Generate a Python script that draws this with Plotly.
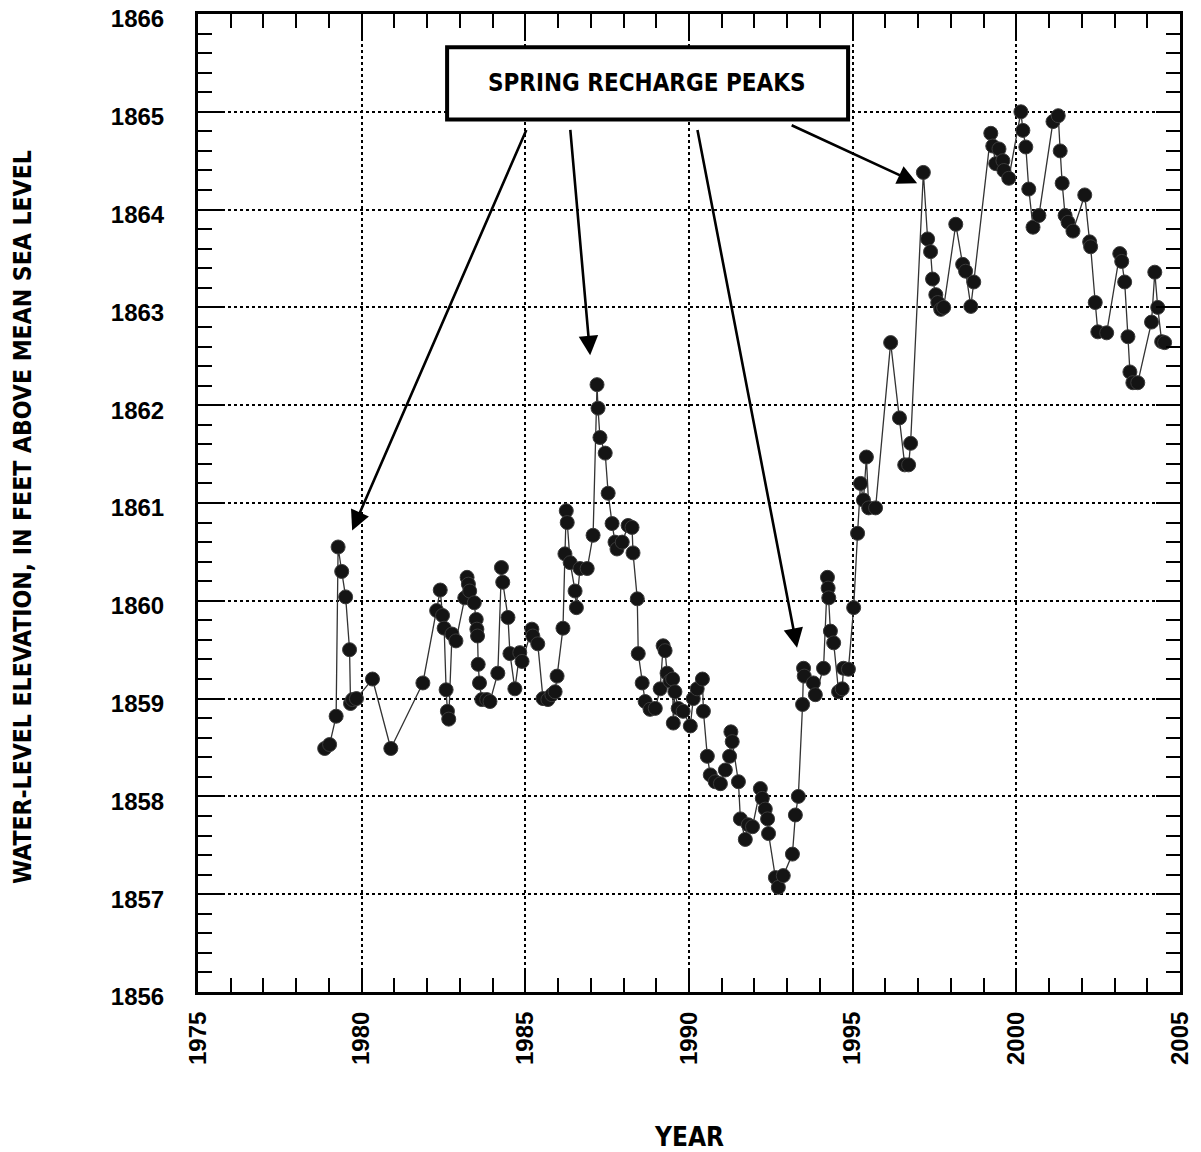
import plotly.graph_objects as go

years = [
    1978.87, 1979.02, 1979.22, 1979.28, 1979.39, 1979.51, 1979.63, 1979.66, 1979.72, 1979.84,
    1980.33, 1980.89, 1981.87, 1982.29, 1982.40, 1982.47, 1982.52, 1982.58, 1982.62, 1982.66,
    1982.76, 1982.88, 1983.15, 1983.22, 1983.26, 1983.30, 1983.44, 1983.50, 1983.52, 1983.54,
    1983.56, 1983.60, 1983.67, 1983.82, 1983.92, 1984.16, 1984.27, 1984.31, 1984.47, 1984.53,
    1984.68, 1984.83, 1984.90, 1985.20, 1985.23, 1985.38, 1985.54, 1985.69, 1985.81, 1985.91,
    1985.97, 1986.15, 1986.21, 1986.25, 1986.28, 1986.37, 1986.52, 1986.56, 1986.67, 1986.89,
    1987.07, 1987.19, 1987.22, 1987.28, 1987.44, 1987.53, 1987.65, 1987.74, 1987.80, 1987.96,
    1988.14, 1988.26, 1988.29, 1988.42, 1988.45, 1988.57, 1988.66, 1988.81, 1988.97, 1989.12,
    1989.21, 1989.27, 1989.33, 1989.42, 1989.50, 1989.52, 1989.57, 1989.67, 1989.82, 1990.04,
    1990.13, 1990.25, 1990.41, 1990.44, 1990.56, 1990.65, 1990.80, 1990.96, 1991.11, 1991.24,
    1991.28, 1991.32, 1991.51, 1991.57, 1991.72, 1991.81, 1991.94, 1992.18, 1992.24, 1992.33,
    1992.40, 1992.43, 1992.64, 1992.73, 1992.88, 1993.16, 1993.25, 1993.34, 1993.47, 1993.50,
    1993.52, 1993.80, 1993.86, 1994.11, 1994.23, 1994.25, 1994.27, 1994.32, 1994.42, 1994.57,
    1994.68, 1994.72, 1994.87, 1995.03, 1995.15, 1995.24, 1995.33, 1995.42, 1995.49, 1995.70,
    1996.16, 1996.43, 1996.59, 1996.71, 1996.77, 1997.16, 1997.29, 1997.38, 1997.44, 1997.54,
    1997.60, 1997.69, 1997.78, 1998.15, 1998.36, 1998.45, 1998.61, 1998.70, 1999.22, 1999.28,
    1999.37, 1999.47, 1999.59, 1999.62, 1999.77, 2000.14, 2000.20, 2000.29, 2000.38, 2000.51,
    2000.69, 2001.12, 2001.28, 2001.34, 2001.40, 2001.49, 2001.58, 2001.73, 2002.09, 2002.24,
    2002.27, 2002.41, 2002.49, 2002.76, 2003.16, 2003.22, 2003.31, 2003.41, 2003.47, 2003.56,
    2003.71, 2004.13, 2004.23, 2004.32, 2004.44, 2004.53,
]

water_level = [
    1858.49, 1858.53, 1858.82, 1860.55, 1860.30, 1860.04, 1859.50, 1858.95, 1858.99, 1859.00,
    1859.20, 1858.49, 1859.16, 1859.90, 1860.11, 1859.85, 1859.72, 1859.09, 1858.87, 1858.79,
    1859.66, 1859.59, 1860.03, 1860.24, 1860.17, 1860.10, 1859.98, 1859.81, 1859.71, 1859.64,
    1859.35, 1859.16, 1858.99, 1858.99, 1858.97, 1859.26, 1860.34, 1860.19, 1859.83, 1859.46,
    1859.10, 1859.47, 1859.38, 1859.71, 1859.64, 1859.56, 1859.00, 1858.99, 1859.04, 1859.07,
    1859.23, 1859.72, 1860.48, 1860.92, 1860.80, 1860.39, 1860.10, 1859.93, 1860.33, 1860.33,
    1860.67, 1862.21, 1861.97, 1861.67, 1861.51, 1861.10, 1860.79, 1860.60, 1860.53, 1860.60,
    1860.77, 1860.75, 1860.49, 1860.02, 1859.46, 1859.16, 1858.97, 1858.89, 1858.90, 1859.10,
    1859.54, 1859.49, 1859.26, 1859.18, 1859.20, 1858.75, 1859.07, 1858.90, 1858.87, 1858.72,
    1859.00, 1859.10, 1859.20, 1858.87, 1858.41, 1858.22, 1858.15, 1858.13, 1858.27, 1858.41,
    1858.66, 1858.56, 1858.15, 1857.77, 1857.56, 1857.71, 1857.69, 1858.08, 1857.98, 1857.87,
    1857.77, 1857.62, 1857.17, 1857.07, 1857.19, 1857.41, 1857.81, 1858.00, 1858.94, 1859.31,
    1859.23, 1859.16, 1859.04, 1859.31, 1860.24, 1860.13, 1860.03, 1859.69, 1859.57, 1859.07,
    1859.10, 1859.31, 1859.30, 1859.93, 1860.69, 1861.20, 1861.03, 1861.47, 1860.95, 1860.95,
    1862.64, 1861.87, 1861.39, 1861.39, 1861.61, 1864.38, 1863.70, 1863.57, 1863.29, 1863.13,
    1863.05, 1862.98, 1863.00, 1863.85, 1863.44, 1863.37, 1863.01, 1863.26, 1864.78, 1864.65,
    1864.47, 1864.62, 1864.50, 1864.40, 1864.32, 1865.00, 1864.81, 1864.64, 1864.21, 1863.82,
    1863.94, 1864.90, 1864.96, 1864.60, 1864.27, 1863.94, 1863.87, 1863.78, 1864.15, 1863.67,
    1863.62, 1863.05, 1862.75, 1862.74, 1863.55, 1863.47, 1863.26, 1862.70, 1862.34, 1862.23,
    1862.23, 1862.85, 1863.36, 1863.00, 1862.65, 1862.64,
]

x_tick_vals = [1975, 1980, 1985, 1990, 1995, 2000, 2005]
x_tick_text = ["1975", "1980", "1985", "1990", "1995", "2000", "2005"]
y_tick_vals = [1856, 1857, 1858, 1859, 1860, 1861, 1862, 1863, 1864, 1865, 1866]
y_tick_text = [str(v) for v in y_tick_vals]

box_label = "SPRING RECHARGE PEAKS"
# arrows: (tail_x, tail_y, head_x, head_y)
arrow_tails_x = [1985.05, 1986.37, 1990.25, 1993.09]
arrow_tails_y = [1864.83, 1864.83, 1864.83, 1864.87]
arrow_heads_x = [1979.71, 1986.98, 1993.30, 1996.97]
arrow_heads_y = [1860.72, 1862.51, 1859.52, 1864.27]

FONT_HEAVY = "Liberation Sans, Arial, sans-serif"
FONT_COND = "DejaVu Sans Condensed, Liberation Sans, sans-serif"

fig = go.Figure()
fig.add_trace(go.Scatter(
    x=years, y=water_level, mode="lines+markers",
    line=dict(color="#333333", width=1.3),
    marker=dict(size=14, color="#141414", line=dict(color="#3a3a3a", width=1)),
    showlegend=False, hoverinfo="x+y",
))

axis_common = dict(
    showline=True, linecolor="black", linewidth=3, mirror="ticks",
    ticks="inside", tickcolor="black", tickwidth=2, ticklen=24,
    showgrid=True, gridcolor="black", gridwidth=1.6, griddash="dot",
    zeroline=False, automargin=False, ticklabeloverflow="allow",
    tickfont=dict(family=FONT_HEAVY, size=24, color="black", weight="bold"),
)

fig.update_xaxes(
    range=[1975, 2005], tickvals=x_tick_vals, ticktext=x_tick_text,
    tickangle=-90, ticklabelstandoff=7,
    minor=dict(dtick=1, tick0=1975, ticks="inside", ticklen=14, tickwidth=2,
               tickcolor="black", showgrid=False),
    **axis_common,
)
fig.update_yaxes(
    range=[1856, 1866], tickvals=y_tick_vals, ticktext=y_tick_text,
    ticklabelstandoff=26, ticklabelshift=5,
    minor=dict(dtick=0.2, tick0=1856, ticks="inside", ticklen=14, tickwidth=2,
               tickcolor="black", showgrid=False),
    **axis_common,
)

annotations = []
for tx, ty, hx, hy in zip(arrow_tails_x, arrow_tails_y, arrow_heads_x, arrow_heads_y):
    annotations.append(dict(
        x=hx, y=hy, xref="x", yref="y", ax=tx, ay=ty, axref="x", ayref="y",
        showarrow=True, arrowhead=2, arrowsize=1.5, arrowwidth=2.6,
        arrowcolor="black", text="",
    ))

annotations.append(dict(
    x=1988.73, y=1865.29, xref="x", yref="y", text="<b>" + box_label + "</b>",
    showarrow=False, font=dict(family=FONT_COND, size=24, color="black"),
    xanchor="center", yanchor="middle",
))
annotations.append(dict(
    x=0, y=0.5, xref="paper", yref="paper", xshift=-176, yshift=-14,
    text="<b>WATER-LEVEL ELEVATION, IN FEET ABOVE MEAN SEA LEVEL</b>",
    textangle=-90, showarrow=False,
    font=dict(family=FONT_COND, size=24.5, color="black"),
    xanchor="center", yanchor="middle",
))
annotations.append(dict(
    x=0.5, y=0, xref="paper", yref="paper", yshift=-145,
    text="<b>YEAR</b>", showarrow=False,
    font=dict(family=FONT_COND, size=26, color="black"),
    xanchor="center", yanchor="middle",
))

shapes = [
    dict(type="rect", xref="x", yref="y", x0=1982.61, x1=1994.86, y0=1864.92, y1=1865.66,
         line=dict(color="black", width=4), fillcolor="white", layer="above"),
]

fig.update_layout(
    width=1201, height=1152, autosize=False,
    margin=dict(l=198, r=21, t=14, b=160),
    paper_bgcolor="white", plot_bgcolor="white",
    annotations=annotations, shapes=shapes,
)

fig.write_html(
    "out.html",
    config={"displayModeBar": False},
    post_script="document.body.style.margin='0';document.body.style.overflow='hidden';",
)
